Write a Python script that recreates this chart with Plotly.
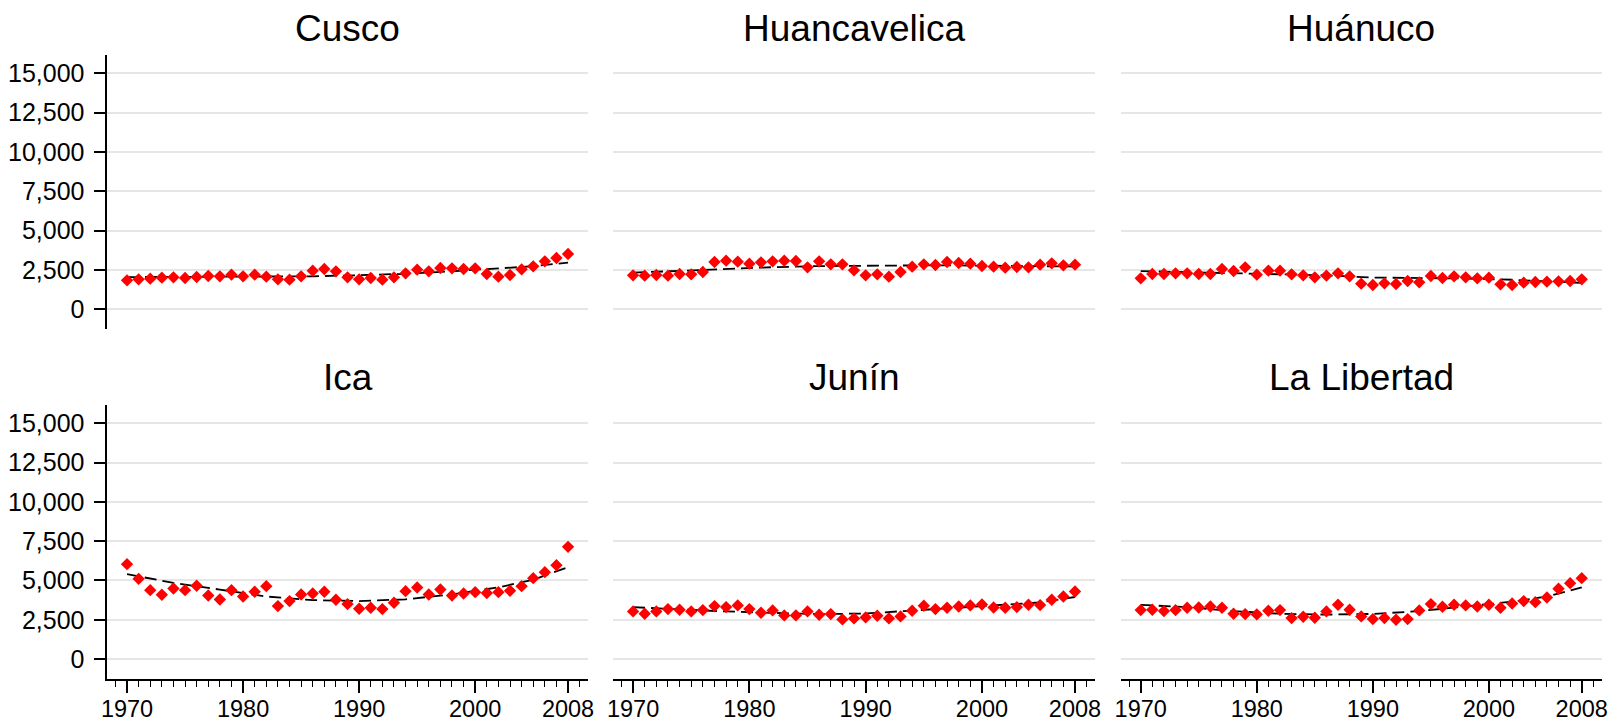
import plotly.graph_objects as go

W, H = 1612, 723

years = list(range(1970, 2009))
regions = ["Cusco", "Huancavelica", "Huánuco", "Ica", "Junín", "La Libertad"]

cusco = [1843, 1907, 1950, 2013, 2034, 1992, 2055, 2119, 2098, 2204,
         2098, 2204, 2077, 1907, 1886, 2098, 2458, 2564, 2416, 2034,
         1907, 1992, 1886, 2034, 2289, 2522, 2416, 2628, 2606, 2564,
         2606, 2246, 2077, 2183, 2543, 2733, 3051, 3263, 3517]
huancavelica = [2161, 2140, 2183, 2140, 2246, 2225, 2373, 3009, 3094, 3030,
                2903, 2988, 3051, 3094, 3073, 2670, 3051, 2861, 2861, 2479,
                2161, 2225, 2077, 2373, 2712, 2861, 2818, 3009, 2945, 2903,
                2755, 2712, 2649, 2691, 2670, 2840, 2924, 2797, 2840]
huanuco = [1971, 2246, 2246, 2289, 2289, 2246, 2246, 2564, 2437, 2670,
           2204, 2458, 2458, 2225, 2161, 2034, 2140, 2289, 2098, 1632,
           1547, 1653, 1610, 1801, 1716, 2119, 1992, 2098, 2034, 1971,
           2013, 1589, 1547, 1695, 1738, 1759, 1780, 1801, 1907]
ica = [6039, 5107, 4386, 4090, 4492, 4386, 4662, 4047, 3793, 4386,
       3984, 4280, 4641, 3369, 3687, 4111, 4174, 4280, 3772, 3496,
       3200, 3263, 3179, 3581, 4323, 4556, 4111, 4429, 4047, 4174,
       4259, 4196, 4259, 4344, 4641, 5150, 5531, 5976, 7141]
junin = [3030, 2882, 3030, 3179, 3136, 3030, 3115, 3369, 3306, 3412,
         3179, 2945, 3094, 2776, 2776, 3030, 2818, 2861, 2522, 2585,
         2649, 2755, 2585, 2712, 3073, 3390, 3179, 3263, 3348, 3412,
         3475, 3284, 3263, 3306, 3454, 3433, 3772, 3984, 4302]
la_libertad = [3115, 3136, 3051, 3115, 3263, 3284, 3348, 3263, 2882, 2861,
               2840, 3073, 3115, 2606, 2691, 2628, 3030, 3454, 3136, 2712,
               2543, 2606, 2500, 2543, 3094, 3496, 3327, 3454, 3412, 3348,
               3454, 3263, 3539, 3687, 3623, 3920, 4471, 4831, 5149]

fit_years = [1970, 1974, 1978, 1982, 1986, 1990, 1994, 1998, 2002, 2005, 2008]
fit_cusco = [2050, 2060, 2080, 2090, 2100, 2170, 2260, 2420, 2600, 2740, 2970]
fit_huancavelica = [2330, 2450, 2580, 2680, 2750, 2780, 2790, 2790, 2760, 2740, 2720]
fit_huanuco = [2430, 2360, 2290, 2230, 2160, 2020, 1990, 1960, 1880, 1790, 1680]
fit_ica = [5400, 4850, 4420, 3980, 3750, 3690, 3800, 4120, 4560, 5050, 5850]
fit_junin = [3300, 3150, 3030, 2940, 2860, 2900, 3080, 3300, 3470, 3600, 3950]
fit_la_libertad = [3450, 3300, 3050, 2880, 2830, 2870, 3050, 3330, 3650, 3980, 4560]

series = [cusco, huancavelica, huanuco, ica, junin, la_libertad]
fits = [fit_cusco, fit_huancavelica, fit_huanuco, fit_ica, fit_junin, fit_la_libertad]

y_ticks = [0, 2500, 5000, 7500, 10000, 12500, 15000]
x_ticks = [1970, 1980, 1990, 2000, 2008]

# layout geometry (pixels)
col_px = [(107.3, 588.0), (613.3, 1095.0), (1121.0, 1601.7)]
row_px = [(55.0, 329.3), (405.0, 679.0)]
title_px = [29.0, 377.0]

FONT = "Liberation Sans, Arial, Helvetica, sans-serif"

fig = go.Figure()
layout = {}
annotations = []
for i, name in enumerate(regions):
    r, c = divmod(i, 3)
    sfx = "" if i == 0 else str(i + 1)
    xa, ya = "x" + sfx, "y" + sfx
    fig.add_trace(go.Scatter(
        x=fit_years, y=fits[i], mode="lines",
        line=dict(color="black", width=1.8, dash="12px,6px"),
        xaxis=xa, yaxis=ya, showlegend=False, hoverinfo="skip"))
    fig.add_trace(go.Scatter(
        x=years, y=series[i], mode="markers",
        marker=dict(symbol="diamond", size=9.5, color="#ff0000", line=dict(width=0)),
        xaxis=xa, yaxis=ya, showlegend=False, name=name))
    x0, x1 = col_px[c]
    y0, y1 = row_px[r]
    xdom = [x0 / W, x1 / W]
    ydom = [1 - y1 / H, 1 - y0 / H]
    bottom = r == 1
    left = c == 0
    layout["xaxis" + sfx] = dict(
        domain=xdom, anchor=ya, range=[1968.3, 2009.72], automargin=False,
        showgrid=False, zeroline=False,
        showline=bottom, linecolor="black", linewidth=1.6,
        tickmode="array", tickvals=x_ticks, ticktext=[str(v) for v in x_ticks],
        ticks="outside" if bottom else "", ticklen=12.5, tickwidth=1.6, tickcolor="black",
        showticklabels=bottom, ticklabelstandoff=-5,
        tickfont=dict(family=FONT, size=23.5, color="black"),
        minor=dict(ticks="outside" if bottom else "", ticklen=6, tickwidth=1.4,
                   tickcolor="black", tickmode="linear", tick0=1970, dtick=1,
                   showgrid=False),
    )
    layout["yaxis" + sfx] = dict(
        domain=ydom, anchor=xa, range=[-1270, 16170], automargin=False,
        showgrid=True, gridcolor="#e6e6e6", gridwidth=2, zeroline=False,
        showline=left, linecolor="black", linewidth=1.6,
        tickmode="array", tickvals=y_ticks,
        ticktext=[f"{v:,}" for v in y_ticks],
        ticks="outside" if left else "", ticklen=12, tickwidth=1.6, tickcolor="black",
        showticklabels=left, ticklabelstandoff=4,
        tickfont=dict(family=FONT, size=25, color="black"),
    )
    annotations.append(dict(
        text=name, xref="paper", yref="paper",
        x=(x0 + x1) / 2 / W, y=1 - title_px[r] / H,
        xanchor="center", yanchor="middle", showarrow=False,
        font=dict(family=FONT, size=37, color="black")))

fig.update_layout(
    width=W, height=H,
    margin=dict(l=0, r=0, t=0, b=0, autoexpand=False),
    paper_bgcolor="white", plot_bgcolor="white",
    annotations=annotations,
    **layout,
)

fig.write_html("out.html")
